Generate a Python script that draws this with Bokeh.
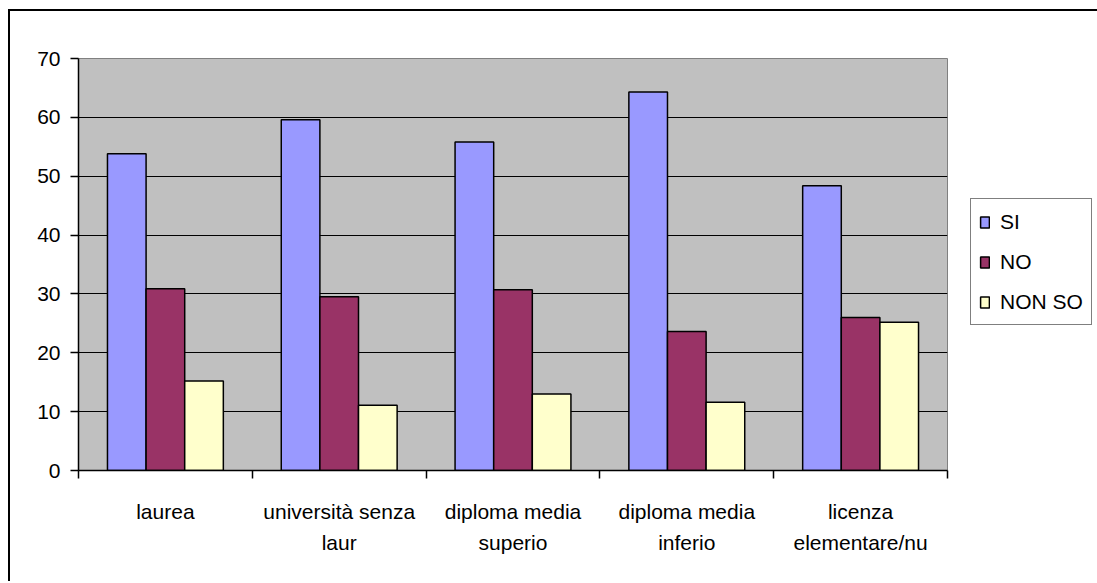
import numpy as np
from bokeh.plotting import figure
from bokeh.models import ColumnDataSource, FixedTicker, Legend, LegendItem, Range1d
from bokeh.embed import file_html
from bokeh.resources import INLINE

categories = ["laurea", "università senza\nlaur", "diploma media\nsuperio",
              "diploma media\ninferio", "licenza\nelementare/nu"]
series_names = ["SI", "NO", "NON SO"]
si_values = [53.8, 59.6, 55.8, 64.3, 48.4]
no_values = [30.9, 29.5, 30.7, 23.6, 26.0]
nonso_values = [15.2, 11.1, 13.0, 11.6, 25.2]
colors = ["#9999FF", "#993366", "#FFFFCC"]
y_ticks = [0, 10, 20, 30, 40, 50, 60, 70]

FONT = "Liberation Sans"
n = len(categories)
centers = np.arange(n) + 0.5
bw = 1 / 4.5

p = figure(frame_width=869, frame_height=412, output_backend="svg", toolbar_location=None,
           x_range=Range1d(0, n), y_range=Range1d(0, 70),
           min_border_left=68, min_border_top=47, min_border_right=150,
           min_border_bottom=111)
p.styles = {"margin-left": "8px", "margin-top": "9px",
            "border-left": "2px solid black", "border-top": "2px solid black"}
p.background_fill_color = "#C0C0C0"
p.border_fill_color = "white"
p.outline_line_color = "#808080"
p.outline_line_width = 1

renderers = []
for k, (vals, col) in enumerate(zip([si_values, no_values, nonso_values], colors)):
    src = ColumnDataSource(dict(x=centers + (k - 1) * bw, top=vals))
    r = p.vbar(x="x", top="top", width=bw, bottom=0, source=src,
               fill_color=col, line_color="black", line_width=1.5)
    renderers.append(r)

# axes
p.xaxis.ticker = FixedTicker(ticks=list(centers), minor_ticks=list(range(n + 1)))
p.xaxis.major_label_overrides = {float(c): lab for c, lab in zip(centers, categories)}
p.xaxis.major_tick_line_color = None
p.xaxis.major_tick_out = 0
p.xaxis.major_tick_in = 0
p.xaxis.minor_tick_line_color = "black"
p.xaxis.minor_tick_line_width = 1.5
p.xaxis.minor_tick_out = 8
p.xaxis.minor_tick_in = 0
p.xaxis.major_label_standoff = 21
p.xaxis.major_label_text_font = FONT
p.xaxis.major_label_text_font_size = "21px"
p.xaxis.major_label_text_color = "black"
p.xaxis.major_label_text_line_height = 1.38
p.xaxis.axis_line_color = "black"
p.xaxis.axis_line_width = 1.5

p.yaxis.ticker = FixedTicker(ticks=y_ticks)
p.yaxis.major_tick_out = 8
p.yaxis.major_tick_in = 0
p.yaxis.major_tick_line_width = 1.5
p.yaxis.minor_tick_line_color = None
p.yaxis.major_label_standoff = 10
p.yaxis.major_label_text_font = FONT
p.yaxis.major_label_text_font_size = "21px"
p.yaxis.major_label_text_color = "black"
p.yaxis.axis_line_color = "black"
p.yaxis.axis_line_width = 1.5

p.xgrid.grid_line_color = None
p.ygrid.ticker = FixedTicker(ticks=y_ticks)
p.ygrid.grid_line_color = "black"
p.ygrid.grid_line_width = 1.2

legend = Legend(items=[LegendItem(label=nm, renderers=[r]) for nm, r in zip(series_names, renderers)],
                location=(23, 145), orientation="vertical")
legend.margin = 0
legend.padding = 8
legend.spacing = 11
legend.label_height = 29
legend.glyph_width = 11
legend.glyph_height = 14
legend.label_standoff = 10
legend.label_text_font = FONT
legend.label_text_font_size = "21px"
legend.label_text_color = "black"
legend.border_line_color = "black"
legend.border_line_width = 1.5
legend.background_fill_color = "white"
legend.background_fill_alpha = 1
p.add_layout(legend, "right")

open("out.html", "w").write(file_html(p, INLINE))
